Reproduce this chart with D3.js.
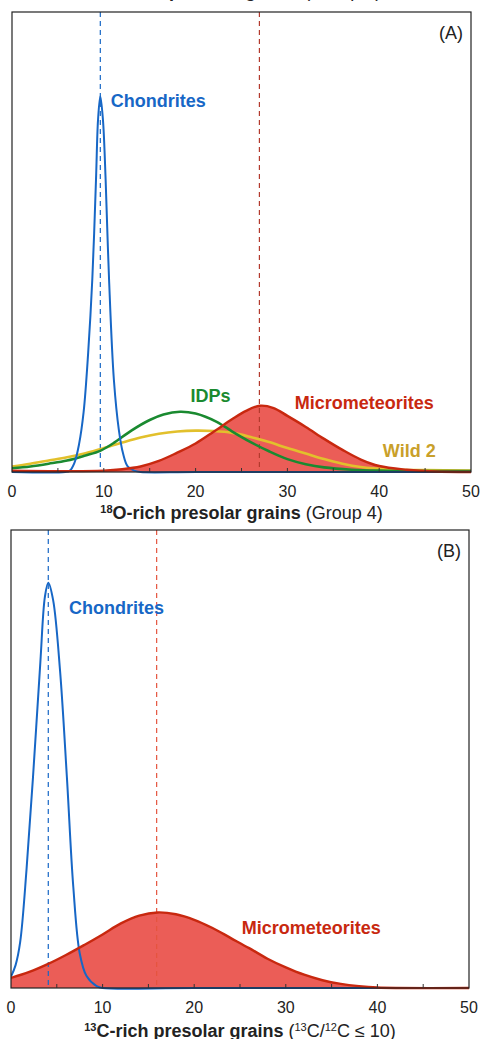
<!DOCTYPE html>
<html>
<head>
<meta charset="utf-8">
<script src="https://cdn.jsdelivr.net/npm/d3@7"></script>
<style>
  html, body { margin: 0; padding: 0; background: #fff; }
  svg { display: block; font-family: "Liberation Sans", Arial, Helvetica, sans-serif; }
</style>
</head>
<body>
<div id="chart"></div>
<script>
// x ticks shared by both panels
const X_TICKS = [0, 10, 20, 30, 40, 50];
const X_MINOR = [5, 10, 15, 20, 25, 30, 35, 40, 45];

// Panel A: 18O-rich presolar grains (Group 4), relative frequency
const A_CHONDRITES_X = [0, 5.8, 6.3, 6.8, 7.3, 7.8, 8.3, 8.75, 9.15, 9.37, 9.62, 9.91, 10.2, 10.57, 11.1, 11.65, 12.1, 12.6, 13.3, 14, 20, 50];
const A_CHONDRITES_Y = [0, 0, 0.003, 0.02, 0.06, 0.13, 0.26, 0.42, 0.635, 0.765, 0.817, 0.765, 0.635, 0.42, 0.2, 0.09, 0.04, 0.012, 0.003, 0, 0, 0];

const A_IDPS_X = [0, 2, 4, 6, 8, 9.6, 11, 13, 15, 16.5, 18.3, 20, 22.3, 24, 26, 28, 30, 32, 34, 37, 40, 45, 50];
const A_IDPS_Y = [0.008, 0.012, 0.018, 0.025, 0.036, 0.046, 0.062, 0.09, 0.113, 0.125, 0.131, 0.127, 0.109, 0.088, 0.065, 0.045, 0.028, 0.017, 0.01, 0.005, 0.003, 0.002, 0.002];

const A_WILD2_X = [0, 2, 4, 6, 8, 10, 12, 14, 16, 18, 20, 22, 24, 26, 28, 30, 32, 34, 36, 38, 41, 45, 50];
const A_WILD2_Y = [0.012, 0.018, 0.025, 0.032, 0.041, 0.052, 0.064, 0.075, 0.083, 0.088, 0.09, 0.089, 0.085, 0.076, 0.065, 0.052, 0.04, 0.028, 0.018, 0.011, 0.006, 0.004, 0.003];

const A_MICRO_X = [0, 5, 10, 12, 14, 16, 18, 20, 22, 24, 25.5, 27, 28.5, 30, 32, 34, 36, 38, 40, 43, 46, 50];
const A_MICRO_Y = [0.003, 0.002, 0.003, 0.006, 0.012, 0.024, 0.042, 0.062, 0.088, 0.115, 0.133, 0.144, 0.139, 0.122, 0.098, 0.072, 0.048, 0.027, 0.013, 0.005, 0.001, 0];

const A_MEANS = { chondrites: 9.62, micro: 26.95 };

// Panel B: 13C-rich presolar grains
const B_CHONDRITES_X = [0, 0.5, 1, 1.7, 2.4, 3.2, 3.7, 4.07, 4.6, 5.35, 6.1, 6.8, 7.5, 8.25, 9.35, 10, 20, 50];
const B_CHONDRITES_Y = [0.025, 0.05, 0.1, 0.26, 0.46, 0.71, 0.854, 0.885, 0.847, 0.694, 0.461, 0.221, 0.076, 0.026, 0.004, 0, 0, 0];

const B_MICRO_X = [0, 2, 4, 6, 8, 10, 12, 14, 16, 18, 20, 22, 24, 26, 28, 30, 32, 34, 36, 38, 40, 42, 50];
const B_MICRO_Y = [0.022, 0.035, 0.052, 0.072, 0.094, 0.117, 0.141, 0.158, 0.165, 0.161, 0.149, 0.131, 0.109, 0.087, 0.064, 0.045, 0.029, 0.017, 0.009, 0.004, 0.001, 0, 0];

const B_MEANS = { chondrites: 4.07, micro: 15.9 };

const COLORS = {
  blue: "#1767c6",
  green: "#1a8a30",
  yellow: "#e2c02c",
  yellowText: "#c9a02a",
  redLine: "#c8280f",
  redFill: "#eb5d57",
  text: "#222"
};

const W = 480, H = 1039;
const svg = d3.select("#chart").append("svg").attr("width", W).attr("height", H);

const zip = (xs, ys) => xs.map((x, i) => ({ x, y: ys[i] }));
const curve = d3.curveCatmullRom.alpha(0.5);

function drawPanel(p) {
  const x = d3.scaleLinear().domain([0, 50]).range([p.left, p.right]);
  const y = d3.scaleLinear().domain([0, 1]).range([p.bottom, p.top]);
  const g = svg.append("g");

  const line = d3.line().x(d => x(d.x)).y(d => Math.min(y(0), y(d.y))).curve(curve);
  const area = d3.area().x(d => x(d.x)).y0(y(0)).y1(d => y(d.y)).curve(curve);

  // clip so the curves stay in the frame
  const clipId = "clip-" + p.id;
  svg.append("clipPath").attr("id", clipId).append("rect")
    .attr("x", p.left).attr("y", p.top).attr("width", p.right - p.left).attr("height", p.bottom - p.top + 2);
  const plot = g.append("g").attr("clip-path", `url(#${clipId})`);

  // micrometeorite fill
  plot.append("path").datum(p.micro).attr("d", area).attr("fill", COLORS.redFill);

  // mean lines
  plot.append("line")
    .attr("x1", x(p.means.chondrites)).attr("x2", x(p.means.chondrites))
    .attr("y1", p.top).attr("y2", p.bottom)
    .attr("stroke", COLORS.blue).attr("stroke-width", 1.2).attr("stroke-dasharray", "5,4");
  plot.append("line")
    .attr("x1", x(p.means.micro)).attr("x2", x(p.means.micro))
    .attr("y1", p.top).attr("y2", p.bottom)
    .attr("stroke", p.meanRed).attr("stroke-width", 1.2).attr("stroke-dasharray", "5,4");

  // frame + bottom axis
  g.append("rect")
    .attr("x", p.left).attr("y", p.top)
    .attr("width", p.right - p.left).attr("height", p.bottom - p.top)
    .attr("fill", "none").attr("stroke", "#222").attr("stroke-width", 1.2);

  g.selectAll(".minor").data(X_MINOR).join("line")
    .attr("x1", d => x(d)).attr("x2", d => x(d))
    .attr("y1", p.bottom).attr("y2", p.bottom - 4)
    .attr("stroke", "#333").attr("stroke-width", 1);

  // extra series (panel A only)
  if (p.wild2) {
    plot.append("path").datum(p.wild2).attr("d", line)
      .attr("fill", "none").attr("stroke", COLORS.yellow).attr("stroke-width", 2.6);
  }
  if (p.idps) {
    plot.append("path").datum(p.idps).attr("d", line)
      .attr("fill", "none").attr("stroke", COLORS.green).attr("stroke-width", 2.6);
  }

  plot.append("path").datum(p.chondrites).attr("d", line)
    .attr("fill", "none").attr("stroke", COLORS.blue).attr("stroke-width", 2);

  plot.append("path").datum(p.micro).attr("d", line)
    .attr("fill", "none").attr("stroke", COLORS.redLine).attr("stroke-width", 2.4);

  // tick labels
  g.selectAll(".tick").data(X_TICKS).join("text")
    .attr("x", d => x(d)).attr("y", p.tickBase)
    .attr("text-anchor", "middle").attr("font-size", 16).attr("fill", COLORS.text)
    .text(d => d);

  // panel letter
  g.append("text").attr("x", p.right - 8).attr("y", p.top + 27)
    .attr("text-anchor", "end").attr("font-size", 18).attr("fill", COLORS.text)
    .text(p.letter);

  // series labels
  p.labels.forEach(l => {
    g.append("text").attr("x", x(l.x)).attr("y", y(l.y))
      .attr("font-size", 18).attr("font-weight", "bold").attr("fill", l.color)
      .text(l.text);
  });

  // axis title
  const t = g.append("text").attr("x", (p.left + p.right) / 2).attr("y", p.titleBase)
    .attr("text-anchor", "middle").attr("font-size", 18).attr("fill", COLORS.text);
  p.title(t);
}

// cropped title of the panel above (only descenders show)
svg.append("text").attr("x", 240).attr("y", -3).attr("text-anchor", "middle")
  .attr("font-size", 18).attr("fill", COLORS.text)
  .call(t => {
    t.append("tspan").attr("font-size", 11).attr("font-weight", "bold").attr("dy", -6).text("17");
    t.append("tspan").attr("font-weight", "bold").attr("dy", 6).text("O-rich presolar grains");
    t.append("tspan").text(" (Group 1)");
  });

drawPanel({
  id: "a", letter: "(A)",
  left: 12, right: 471, top: 12, bottom: 472,
  tickBase: 497, titleBase: 519,
  meanRed: "#b33a2d",
  means: A_MEANS,
  chondrites: zip(A_CHONDRITES_X, A_CHONDRITES_Y),
  idps: zip(A_IDPS_X, A_IDPS_Y),
  wild2: zip(A_WILD2_X, A_WILD2_Y),
  micro: zip(A_MICRO_X, A_MICRO_Y),
  labels: [
    { text: "Chondrites", x: 10.75, y: 0.793, color: COLORS.blue },
    { text: "IDPs", x: 19.45, y: 0.152, color: COLORS.green },
    { text: "Micrometeorites", x: 30.8, y: 0.137, color: COLORS.redLine },
    { text: "Wild 2", x: 40.4, y: 0.033, color: COLORS.yellowText }
  ],
  title: t => {
    t.append("tspan").attr("font-size", 11).attr("font-weight", "bold").attr("dy", -6).text("18");
    t.append("tspan").attr("font-weight", "bold").attr("dy", 6).text("O-rich presolar grains");
    t.append("tspan").text(" (Group 4)");
  }
});

drawPanel({
  id: "b", letter: "(B)",
  left: 11, right: 469, top: 530, bottom: 988,
  tickBase: 1013, titleBase: 1037,
  meanRed: "#e4553f",
  means: B_MEANS,
  chondrites: zip(B_CHONDRITES_X, B_CHONDRITES_Y),
  micro: zip(B_MICRO_X, B_MICRO_Y),
  labels: [
    { text: "Chondrites", x: 6.33, y: 0.817, color: COLORS.blue },
    { text: "Micrometeorites", x: 25.2, y: 0.118, color: COLORS.redLine }
  ],
  title: t => {
    t.append("tspan").attr("font-size", 11).attr("font-weight", "bold").attr("dy", -6).text("13");
    t.append("tspan").attr("font-weight", "bold").attr("dy", 6).text("C-rich presolar grains");
    t.append("tspan").text(" (");
    t.append("tspan").attr("font-size", 11).attr("dy", -6).text("13");
    t.append("tspan").attr("dy", 6).text("C/");
    t.append("tspan").attr("font-size", 11).attr("dy", -6).text("12");
    t.append("tspan").attr("dy", 6).text("C ≤ 10)");
  }
});
</script>
</body>
</html>
